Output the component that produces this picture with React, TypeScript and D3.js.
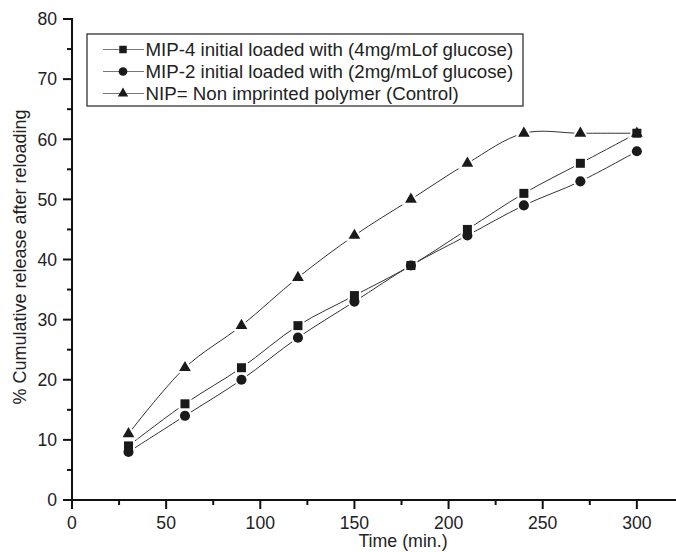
import React from "react";
import * as d3 from "d3";

const times = [30, 60, 90, 120, 150, 180, 210, 240, 270, 300];
const mip4 = [9, 16, 22, 29, 34, 39, 45, 51, 56, 61];
const mip2 = [8, 14, 20, 27, 33, 39, 44, 49, 53, 58];
const nip = [11, 22, 29, 37, 44, 50, 56, 61, 61, 61];
const seriesNames = [
  "MIP-4 initial loaded with (4mg/mLof glucose)",
  "MIP-2 initial loaded with (2mg/mLof glucose)",
  "NIP= Non imprinted polymer (Control)",
];
const xTicks = [0, 50, 100, 150, 200, 250, 300];
const yTicks = [0, 10, 20, 30, 40, 50, 60, 70, 80];

const W = 676;
const H = 552;
const FONT = "'Liberation Sans', Arial, sans-serif";

export default function App() {
  const x = d3.scaleLinear().domain([0, 350]).range([72, 731]);
  const y = d3.scaleLinear().domain([0, 80]).range([500, 19]);

  const series = [
    { name: seriesNames[0], values: mip4, symbol: d3.symbolSquare, size: 81, lsize: 56 },
    { name: seriesNames[1], values: mip2, symbol: d3.symbolCircle, size: 80, lsize: 60 },
    { name: seriesNames[2], values: nip, symbol: d3.symbolTriangle, size: 60, lsize: 46 },
  ];

  const line = d3
    .line<number>()
    .x((_, i) => x(times[i]))
    .y((v) => y(v))
    .curve(d3.curveCatmullRom.alpha(0.5));

  const xMinor = d3.range(25, 350, 50);
  const yMinor = d3.range(5, 80, 10);

  const markerLayer = (white: boolean) =>
    series.map((s, k) => {
      const p = d3.symbol(s.symbol, s.size)() || "";
      return (
        <g key={(white ? "w" : "m") + k}>
          {s.values.map((v, i) => (
            <path
              key={i}
              d={p}
              transform={`translate(${x(times[i])},${y(v)})`}
              fill={white ? "#fff" : "#1a1a1a"}
              stroke={white ? "#fff" : "none"}
              strokeWidth={white ? 4 : 0}
            />
          ))}
        </g>
      );
    });

  return (
    <svg
      width={W}
      height={H}
      style={{ position: "absolute", left: 0, top: 0, background: "#fff" }}
      fontFamily={FONT}
    >
      <rect x={0} y={0} width={W} height={H} fill="#fff" />
      {/* lines */}
      {series.map((s, k) => (
        <path key={"l" + k} d={line(s.values) || ""} fill="none" stroke="#333" strokeWidth={1} />
      ))}
      {/* markers: white halos first, then fills so overlapping markers merge */}
      {markerLayer(true)}
      {markerLayer(false)}
      {/* axes */}
      <g stroke="#111" strokeWidth={2}>
        <line x1={72} x2={72} y1={18} y2={509} />
        <line x1={63} x2={W} y1={500} y2={500} />
        {xTicks.map((t) => (
          <line key={"xt" + t} x1={x(t)} x2={x(t)} y1={500} y2={509} />
        ))}
        {xMinor.map((t) => (
          <line key={"xm" + t} x1={x(t)} x2={x(t)} y1={500} y2={505} />
        ))}
        {yTicks.map((t) => (
          <line key={"yt" + t} x1={63} x2={72} y1={y(t)} y2={y(t)} />
        ))}
        {yMinor.map((t) => (
          <line key={"ym" + t} x1={67} x2={72} y1={y(t)} y2={y(t)} />
        ))}
      </g>
      <g fontSize={17.6} fill="#222">
        {xTicks.map((t) => (
          <text key={"xl" + t} x={x(t)} y={529} textAnchor="middle">
            {t}
          </text>
        ))}
        {yTicks.map((t) => (
          <text key={"yl" + t} x={57} y={y(t) + 6.3} textAnchor="end">
            {t}
          </text>
        ))}
      </g>
      <text x={403} y={547} textAnchor="middle" fontSize={17.8} fill="#222">
        Time (min.)
      </text>
      <text
        transform={`translate(26,257) rotate(-90)`}
        textAnchor="middle"
        fontSize={18}
        fill="#222"
      >
        % Cumulative release after reloading
      </text>
      {/* legend */}
      <rect x={87} y={34} width={436} height={72} fill="#fff" stroke="#333" strokeWidth={1.3} />
      {series.map((s, k) => {
        const by = 56 + k * 22;
        const cy = by - 6.5;
        const p = d3.symbol(s.symbol, s.lsize)() || "";
        return (
          <g key={"lg" + k}>
            <line x1={103} x2={144} y1={cy} y2={cy} stroke="#777" strokeWidth={1} />
            <path d={p} transform={`translate(123,${cy})`} fill="#1a1a1a" />
            <text x={145.5} y={by} fontSize={18.7} fill="#222">
              {s.name}
            </text>
          </g>
        );
      })}
    </svg>
  );
}
